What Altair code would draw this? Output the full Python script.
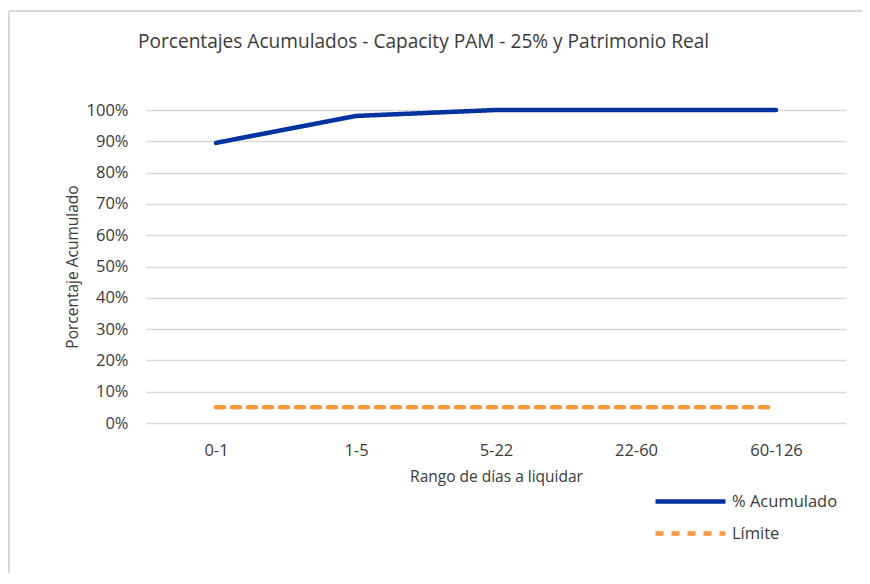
import altair as alt
import pandas as pd

categorias = ["0-1", "1-5", "5-22", "22-60", "60-126"]
acumulado = [0.895, 0.981, 1.0, 1.0, 1.0]
limite = [0.05, 0.05, 0.05, 0.05, 0.05]
series = ["% Acumulado", "Límite"]

BLUE = "#0032A0"
ORANGE = "#F7993E"
GRID = "#D9D9D9"
TXT = "#3a3a3a"
FONT = "Open Sans"

rows = []
for c, a, l in zip(categorias, acumulado, limite):
    rows.append({"rango": c, "valor": a, "serie": series[0]})
    rows.append({"rango": c, "valor": l, "serie": series[1]})
df = pd.DataFrame(rows)

leg = dict(title=None, orient="none", legendX=535, legendY=382,
           symbolType="M-5,0H5", symbolSize=196, symbolStrokeWidth=4.5,
           labelOffset=32, rowPadding=13, padding=0,
           labelFontSize=16.5, labelColor=TXT, labelFont=FONT)

lines = alt.Chart(df).mark_line(strokeWidth=4.5, strokeCap="round").encode(
    x=alt.X("rango:N", sort=categorias,
            axis=alt.Axis(title="Rango de días a liquidar", labelAngle=0, ticks=False,
                          domain=False, labelPadding=19, titlePadding=11)),
    y=alt.Y("valor:Q", scale=alt.Scale(domain=[0, 1], nice=False),
            axis=alt.Axis(title="Porcentaje Acumulado", format=".0%", values=[i / 10 for i in range(11)],
                          ticks=False, domain=False, labelPadding=18, titlePadding=6,
                          gridColor=GRID, gridWidth=1.5)),
    color=alt.Color("serie:N", scale=alt.Scale(domain=series, range=[BLUE, ORANGE]),
                    legend=alt.Legend(**leg)),
    strokeDash=alt.StrokeDash("serie:N", scale=alt.Scale(domain=series, range=[[1, 0], [8, 8]]),
                              legend=alt.Legend(**leg)),
)

frame = pd.DataFrame({"k": [0]})
border_top = alt.Chart(frame).mark_rule(stroke=GRID, strokeWidth=2).encode(
    x=alt.value(-137), x2=alt.value(716), y=alt.value(-99))
border_left = alt.Chart(frame).mark_rule(stroke=GRID, strokeWidth=2).encode(
    x=alt.value(-137), y=alt.value(-99), y2=alt.value(463))

chart = alt.layer(border_top, border_left, lines).properties(
    width=700, height=313,
    padding={"left": 138, "top": 102, "right": 16, "bottom": 150},
    autosize=alt.AutoSizeParams(type="none"),
    title=alt.Title("Porcentajes Acumulados - Capacity PAM - 25% y Patrimonio Real",
                    anchor="start", dx=130, offset=0, dy=42, fontSize=19.1, fontWeight="normal",
                    font=FONT, color=TXT),
).configure_view(strokeWidth=0).configure_axis(
    labelFont=FONT, labelFontSize=16.5, labelColor=TXT,
    titleFont=FONT, titleFontSize=15.5, titleColor=TXT, titleFontWeight="normal",
)

chart.save("out.html", embed_options={"renderer": "svg", "actions": False})
